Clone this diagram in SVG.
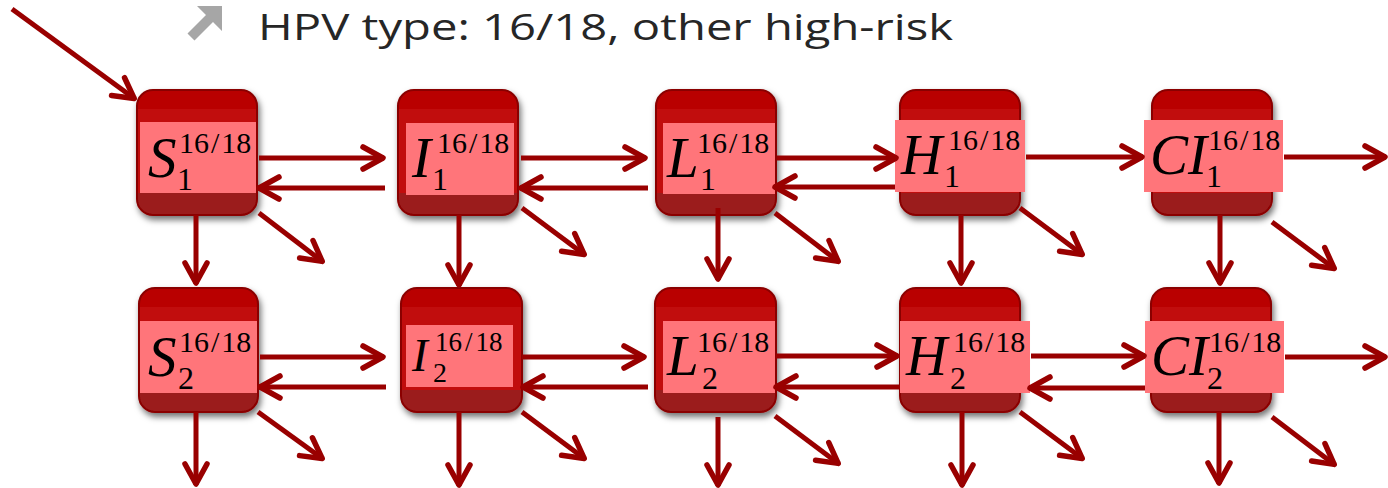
<svg xmlns="http://www.w3.org/2000/svg" width="1388" height="488" viewBox="0 0 1388 488">
<defs>
<linearGradient id="boxg" x1="0" y1="0" x2="0" y2="1">
<stop offset="0" stop-color="#b90000"/><stop offset="0.152" stop-color="#b90000"/>
<stop offset="0.152" stop-color="#c10f0f"/><stop offset="0.824" stop-color="#c10f0f"/>
<stop offset="0.824" stop-color="#9b1c1c"/><stop offset="1" stop-color="#9b1c1c"/>
</linearGradient>
<filter id="sh" x="-20%" y="-20%" width="150%" height="150%">
<feDropShadow dx="2" dy="4" stdDeviation="3" flood-color="#000" flood-opacity="0.55"/>
</filter>
<marker id="ah" markerUnits="userSpaceOnUse" markerWidth="30" markerHeight="30" refX="22" refY="11" orient="auto" overflow="visible">
<path d="M1,0 L21,11 L1,22" fill="none" stroke="#990000" stroke-width="5.5" stroke-linejoin="round" stroke-linecap="round"/>
</marker>
</defs>
<style>
.box{fill:url(#boxg);stroke:#8a0000;stroke-width:2;filter:url(#sh)}
.pk{fill:#ff757a}
.m{font-family:"Liberation Serif","Times New Roman",serif;font-style:italic;font-size:57px;fill:#000}
.sup{font-family:"Liberation Serif","Times New Roman",serif;font-size:30px;fill:#000}
.sub{font-family:"Liberation Serif","Times New Roman",serif;font-size:32px;fill:#000}
.c line{stroke:#990000;stroke-width:5;marker-end:url(#ah)}
.title{font-family:"Open Sans","Noto Sans","Liberation Sans",sans-serif;font-size:37px;fill:#262626}
</style>

<g id="title">
<polygon points="197,6 222,6 222,31 213,22 194.5,40.5 187.5,33.5 206,15" fill="#a6a6a6"/>
<text class="title" x="258" y="40" textLength="695" lengthAdjust="spacingAndGlyphs">HPV type: 16/18, other high-risk</text>
</g>

<g id="S1"><rect class="box" x="137" y="90" width="120" height="125" rx="16"/><rect class="pk" x="140" y="122" width="116" height="71"/>
<text class="m" x="148" y="177">S</text><text class="sup" x="179" y="153">16<tspan dx="2">/</tspan><tspan dx="2">18</tspan></text><text class="sub" x="177" y="190">1</text></g>
<g id="I1"><rect class="box" x="398" y="90" width="120" height="125" rx="16"/><rect class="pk" x="406" y="123" width="108" height="72"/>
<text class="m" x="412" y="177">I</text><text class="sup" x="437" y="153">16<tspan dx="2">/</tspan><tspan dx="2">18</tspan></text><text class="sub" x="432" y="190">1</text></g>
<g id="L1"><rect class="box" x="656" y="90" width="120" height="125" rx="16"/><rect class="pk" x="663" y="123" width="112" height="71"/>
<text class="m" x="667" y="177">L</text><text class="sup" x="697" y="153">16<tspan dx="2">/</tspan><tspan dx="2">18</tspan></text><text class="sub" x="700" y="190">1</text></g>
<g id="H1"><rect class="box" x="900" y="90" width="120" height="125" rx="16"/><rect class="pk" x="895" y="120" width="130" height="72"/>
<text class="m" x="901" y="174">H</text><text class="sup" x="948" y="150">16<tspan dx="2">/</tspan><tspan dx="2">18</tspan></text><text class="sub" x="944" y="187">1</text></g>
<g id="CI1"><rect class="box" x="1152" y="90" width="120" height="125" rx="16"/><rect class="pk" x="1144" y="120" width="139" height="72"/>
<text class="m" x="1150" y="174">CI</text><text class="sup" x="1208" y="150">16<tspan dx="2">/</tspan><tspan dx="2">18</tspan></text><text class="sub" x="1206" y="187">1</text></g>

<g id="S2"><rect class="box" x="139" y="288" width="119" height="124" rx="16"/><rect class="pk" x="140" y="321" width="117" height="72"/>
<text class="m" x="148" y="376">S</text><text class="sup" x="179" y="352">16<tspan dx="2">/</tspan><tspan dx="2">18</tspan></text><text class="sub" x="178" y="389">2</text></g>
<g id="I2"><rect class="box" x="401" y="288" width="121" height="124" rx="16"/><rect class="pk" x="406" y="325" width="107" height="62"/>
<text class="m" x="412" y="371" style="font-size:47px">I</text><text class="sup" x="435" y="351" style="font-size:27px">16<tspan dx="3">/</tspan><tspan dx="3">18</tspan></text><text class="sub" x="433" y="382" style="font-size:28px">2</text></g>
<g id="L2"><rect class="box" x="655" y="288" width="121" height="124" rx="16"/><rect class="pk" x="663" y="321" width="112" height="72"/>
<text class="m" x="667" y="375">L</text><text class="sup" x="697" y="352">16<tspan dx="2">/</tspan><tspan dx="2">18</tspan></text><text class="sub" x="702" y="389">2</text></g>
<g id="H2"><rect class="box" x="900" y="288" width="120" height="124" rx="16"/><rect class="pk" x="900" y="321" width="130" height="72"/>
<text class="m" x="906" y="375">H</text><text class="sup" x="953" y="352">16<tspan dx="2">/</tspan><tspan dx="2">18</tspan></text><text class="sub" x="950" y="389">2</text></g>
<g id="CI2"><rect class="box" x="1151" y="288" width="120" height="124" rx="16"/><rect class="pk" x="1145" y="321" width="139" height="72"/>
<text class="m" x="1151" y="375">CI</text><text class="sup" x="1209" y="352">16<tspan dx="2">/</tspan><tspan dx="2">18</tspan></text><text class="sub" x="1207" y="389">2</text></g>

<g id="connectors" class="c">
<line x1="12" y1="9" x2="135" y2="99"/>
<line x1="259" y1="158" x2="384" y2="158"/>
<line x1="385" y1="188" x2="258" y2="188"/>
<line x1="521" y1="158" x2="646" y2="158"/>
<line x1="648" y1="188" x2="520" y2="188"/>
<line x1="777" y1="158" x2="897" y2="158"/>
<line x1="895" y1="187" x2="774" y2="187"/>
<line x1="1026" y1="157" x2="1143" y2="157"/>
<line x1="1284" y1="157" x2="1386" y2="157"/>
<line x1="260" y1="357" x2="384" y2="357"/>
<line x1="386" y1="387" x2="259" y2="387"/>
<line x1="522" y1="357" x2="645" y2="357"/>
<line x1="648" y1="387" x2="522" y2="387"/>
<line x1="776" y1="356" x2="898" y2="356"/>
<line x1="900" y1="387" x2="775" y2="387"/>
<line x1="1031" y1="356" x2="1145" y2="356"/>
<line x1="1145" y1="388" x2="1029" y2="388"/>
<line x1="1285" y1="357" x2="1386" y2="357"/>
<line x1="196" y1="215" x2="196" y2="284"/>
<line x1="459" y1="215" x2="459" y2="286"/>
<line x1="718" y1="208" x2="718" y2="280"/>
<line x1="961" y1="215" x2="961" y2="284"/>
<line x1="1220" y1="215" x2="1220" y2="284"/>
<line x1="196" y1="412" x2="196" y2="485"/>
<line x1="459" y1="412" x2="459" y2="486"/>
<line x1="718" y1="417" x2="718" y2="486"/>
<line x1="962" y1="412" x2="962" y2="486"/>
<line x1="1219" y1="412" x2="1219" y2="484"/>
<line x1="259" y1="213" x2="323" y2="262"/>
<line x1="522" y1="208" x2="585" y2="255"/>
<line x1="775" y1="213" x2="839" y2="262"/>
<line x1="1020" y1="208" x2="1083" y2="255"/>
<line x1="1272" y1="222" x2="1335" y2="269"/>
<line x1="258" y1="412" x2="323" y2="459"/>
<line x1="522" y1="412" x2="585" y2="459"/>
<line x1="775" y1="416" x2="839" y2="464"/>
<line x1="1020" y1="412" x2="1083" y2="459"/>
<line x1="1272" y1="417" x2="1335" y2="465"/>
</g>
</svg>
